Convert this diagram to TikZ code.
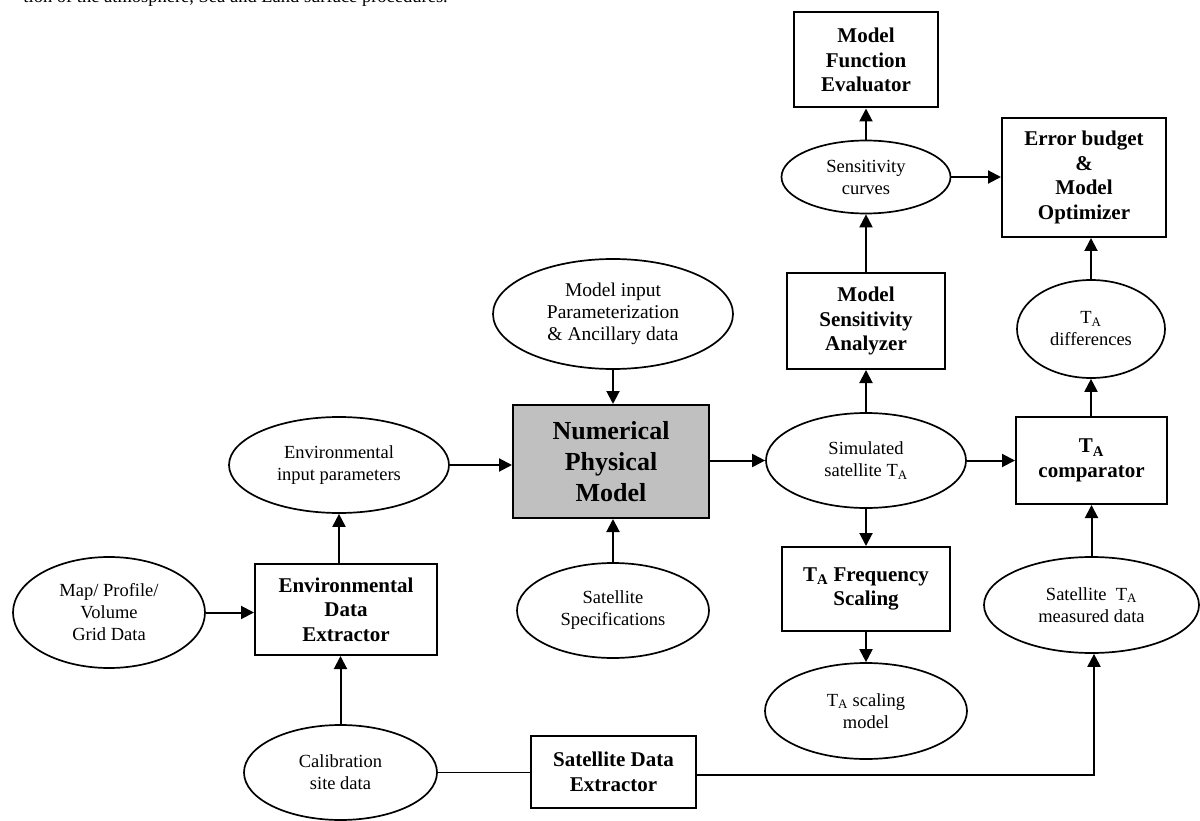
\documentclass[tikz,border=0pt]{standalone}
\usepackage{fontspec}
\setmainfont{Liberation Serif}
\usetikzlibrary{shapes.geometric,arrows.meta}
\definecolor{npmgray}{RGB}{192,192,192}
\begin{document}
\begin{tikzpicture}[x=1pt,y=-1pt,
  every node/.style={inner sep=0pt, align=center},
  oval/.style={ellipse, draw, line width=1.7pt, font=\fontsize{18.5}{22}\selectfont},
  blk/.style={rectangle, draw, line width=2pt, font=\fontsize{21}{24.5}\selectfont\bfseries},
  arr/.style={line width=2pt, -{Triangle[length=13pt,width=13pt]}},
  ln/.style={line width=1.7pt}]
\useasboundingbox (0,0) rectangle (1200,821);

\node[anchor=base east, font=\fontsize{18.5}{22}\selectfont] (cap) at (448,3) {tion of the atmosphere, Sea and Land surface procedures.};

\node[blk, minimum width=144pt, minimum height=95pt] (mfe) at (866,60) {Model\\Function\\Evaluator};
\node[oval, minimum width=169pt, minimum height=73pt] (sens) at (866,177) {Sensitivity\\curves};
\node[blk, minimum width=164pt, minimum height=119pt] (err) at (1084,177.5) {Error budget\\\&\\Model\\Optimizer};
\node[blk, minimum width=158pt, minimum height=96pt] (msa) at (866,321) {Model\\Sensitivity\\Analyzer};
\node[oval, minimum width=148pt, minimum height=98pt] (tad) at (1091,329) {T\textsubscript{A}\\differences};
\node[oval, minimum width=240pt, minimum height=110pt, font=\fontsize{19.5}{22}\selectfont] (mip) at (613,314) {Model input\\Parameterization\\\& Ancillary data};
\node[oval, minimum width=220pt, minimum height=96pt] (envin) at (339,465) {Environmental\\input parameters};
\node[blk, fill=npmgray, minimum width=196pt, minimum height=113pt, font=\fontsize{26}{31}\selectfont\bfseries] (num) at (611,461.5) {Numerical\\Physical\\Model};
\node[oval, minimum width=200pt, minimum height=95pt] (sim) at (866,460.5) {Simulated\\satellite T\textsubscript{A}};
\node[blk, minimum width=151pt, minimum height=87pt] (comp) at (1091.5,460.5) {T\textsubscript{A}\\comparator};
\node[oval, minimum width=192pt, minimum height=111pt] (map) at (109,612.5) {Map/ Profile/\\Volume\\Grid Data};
\node[blk, minimum width=182pt, minimum height=91pt] (ede) at (346,609.5) {Environmental\\Data\\Extractor};
\node[oval, minimum width=192pt, minimum height=95pt] (spec) at (613,610.5) {Satellite\\Specifications};
\node[blk, minimum width=168pt, minimum height=84pt] (freq) at (866,589) {T\textsubscript{A} Frequency\\Scaling};
\node[oval, minimum width=215pt, minimum height=96pt] (meas) at (1091.5,605) {Satellite~~T\textsubscript{A}\\measured data};
\node[oval, minimum width=202pt, minimum height=96pt] (scal) at (866,711) {T\textsubscript{A} scaling\\model};
\node[oval, minimum width=193pt, minimum height=95pt] (cal) at (340.5,772.5) {Calibration\\site data};
\node[blk, minimum width=165pt, minimum height=72pt] (sde) at (613.5,772) {Satellite Data\\Extractor};

% connectors
\draw[arr] (sens.north) -- (sens.north |- mfe.south);
\draw[arr] (sens.east) -- (sens.east -| err.west);
\draw[arr] (msa.north) -- (msa.north |- sens.south);
\draw[arr] (sim.north) -- (sim.north |- msa.south);
\draw[arr] (tad.north) -- (tad.north |- err.south);
\draw[arr] (tad.south |- comp.north) -- (tad.south);
\draw[arr] (mip.south) -- (mip.south |- num.north);
\draw[arr] (envin.east) -- (envin.east -| num.west);
\draw[arr] (num.east |- sim.west) -- (sim.west);
\draw[arr] (sim.east) -- (sim.east -| comp.west);
\draw[arr] (envin.south |- ede.north) -- (envin.south);
\draw[arr] (map.east) -- (map.east -| ede.west);
\draw[arr] (spec.north) -- (spec.north |- num.south);
\draw[arr] (sim.south) -- (sim.south |- freq.north);
\draw[arr] (freq.south) -- (freq.south |- scal.north);
\draw[arr] (meas.north) -- (meas.north |- comp.south);
\draw[arr] (cal.north) -- (cal.north |- ede.south);
\draw[ln] (cal.east) -- (cal.east -| sde.west);
\coordinate (turn) at (1094,775);
\draw[arr] (sde.east |- turn) -- (turn) -- (turn |- meas.south);
\end{tikzpicture}
\end{document}
